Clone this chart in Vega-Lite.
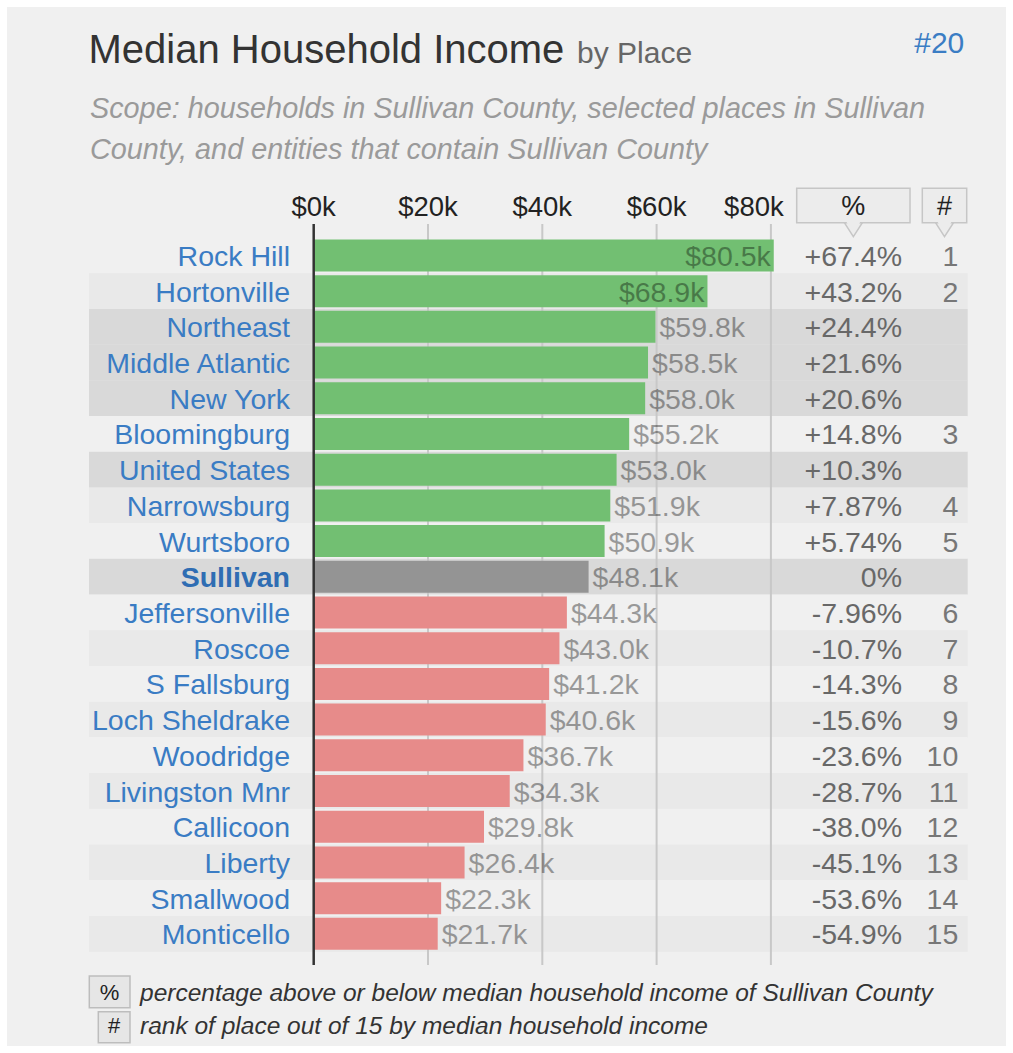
{
  "$schema": "https://vega.github.io/schema/vega-lite/v6.json",
  "width": 1013,
  "height": 1053,
  "autosize": {"type": "none"},
  "padding": 0,
  "background": "white",
  "config": {
    "view": {"fill": "#f0f0f0", "stroke": "white", "strokeWidth": 14},
    "axis": {"disable": true},
    "text": {"font": "Liberation Sans"},
    "locale": {"number": {"decimal": ".", "thousands": ",", "grouping": [3], "currency": ["$", ""], "minus": "-"}}
  },
  "datasets": {
    "rows": [
      {"place": "Rock Hill", "income": 80500, "pct": 0.674, "rank": 1, "type": "place"},
      {"place": "Hortonville", "income": 68900, "pct": 0.432, "rank": 2, "type": "place"},
      {"place": "Northeast", "income": 59800, "pct": 0.244, "rank": null, "type": "region"},
      {"place": "Middle Atlantic", "income": 58500, "pct": 0.216, "rank": null, "type": "region"},
      {"place": "New York", "income": 58000, "pct": 0.206, "rank": null, "type": "region"},
      {"place": "Bloomingburg", "income": 55200, "pct": 0.148, "rank": 3, "type": "place"},
      {"place": "United States", "income": 53000, "pct": 0.103, "rank": null, "type": "region"},
      {"place": "Narrowsburg", "income": 51900, "pct": 0.0787, "rank": 4, "type": "place"},
      {"place": "Wurtsboro", "income": 50900, "pct": 0.0574, "rank": 5, "type": "place"},
      {"place": "Sullivan", "income": 48100, "pct": 0, "rank": null, "type": "county"},
      {"place": "Jeffersonville", "income": 44300, "pct": -0.0796, "rank": 6, "type": "place"},
      {"place": "Roscoe", "income": 43000, "pct": -0.107, "rank": 7, "type": "place"},
      {"place": "S Fallsburg", "income": 41200, "pct": -0.143, "rank": 8, "type": "place"},
      {"place": "Loch Sheldrake", "income": 40600, "pct": -0.156, "rank": 9, "type": "place"},
      {"place": "Woodridge", "income": 36700, "pct": -0.236, "rank": 10, "type": "place"},
      {"place": "Livingston Mnr", "income": 34300, "pct": -0.287, "rank": 11, "type": "place"},
      {"place": "Callicoon", "income": 29800, "pct": -0.380, "rank": 12, "type": "place"},
      {"place": "Liberty", "income": 26400, "pct": -0.451, "rank": 13, "type": "place"},
      {"place": "Smallwood", "income": 22300, "pct": -0.536, "rank": 14, "type": "place"},
      {"place": "Monticello", "income": 21700, "pct": -0.549, "rank": 15, "type": "place"}
    ],
    "ticks": [
      {"v": 0, "label": "$0k"},
      {"v": 20000, "label": "$20k"},
      {"v": 40000, "label": "$40k"},
      {"v": 60000, "label": "$60k"},
      {"v": 80000, "label": "$80k"}
    ]
  },
  "layer": [
    {
      "data": {"name": "rows"},
      "transform": [
        {"window": [{"op": "row_number", "as": "r"}]},
        {"calculate": "datum.type == 'region' ? 'region' : 'local'", "as": "grp"},
        {"window": [{"op": "row_number", "as": "k"}], "groupby": ["grp"]}
      ],
      "mark": {"type": "bar", "orient": "horizontal", "size": 35.9},
      "encoding": {
        "y": {"field": "r", "type": "quantitative", "axis": null,
              "scale": {"domain": [-6.1545, 23.3372], "reverse": true, "nice": false, "zero": false, "padding": 0}},
        "x": {"datum": -39318, "type": "quantitative", "axis": null,
              "scale": {"domain": [-54891, 122362], "nice": false, "zero": false, "padding": 0}},
        "x2": {"datum": 114436},
        "color": {
          "condition": [
            {"test": "datum.type != 'place'", "value": "#d9d9d9"},
            {"test": "datum.k % 2 == 0", "value": "#e9e9e9"}
          ],
          "value": "#f0f0f0"
        }
      }
    },
    {
      "data": {"name": "ticks"},
      "transform": [{"filter": "datum.v > 0"}],
      "mark": {"type": "rule", "color": "#c8c8c8", "strokeWidth": 2},
      "encoding": {
        "x": {"field": "v", "type": "quantitative", "axis": null},
        "y": {"datum": 0.1192, "type": "quantitative", "axis": null},
        "y2": {"datum": 20.873}
      }
    },
    {
      "data": {"name": "rows"},
      "transform": [
        {"window": [{"op": "row_number", "as": "r"}]}
      ],
      "layer": [
        {
          "mark": {"type": "bar", "orient": "horizontal", "size": 32},
          "encoding": {
            "y": {"field": "r", "type": "quantitative", "axis": null},
            "x": {"field": "income", "type": "quantitative", "axis": null},
            "x2": {"datum": 0},
            "color": {
              "condition": [
                {"test": "datum.pct > 0", "value": "#72bf72"},
                {"test": "datum.pct < 0", "value": "#e78b8a"}
              ],
              "value": "#949494"
            }
          }
        },
        {
          "transform": [{"filter": "datum.type != 'county'"}],
          "mark": {"type": "text", "align": "right", "baseline": "alphabetic", "dy": 10.5, "fontSize": 28.5, "color": "#3a7cc4"},
          "encoding": {
            "y": {"field": "r", "type": "quantitative", "axis": null},
            "x": {"datum": -4147, "type": "quantitative", "axis": null},
            "text": {"field": "place"}
          }
        },
        {
          "transform": [{"filter": "datum.type == 'county'"}],
          "mark": {"type": "text", "align": "right", "baseline": "alphabetic", "dy": 10.5, "fontSize": 28.5, "fontWeight": "bold", "color": "#2f6db3"},
          "encoding": {
            "y": {"field": "r", "type": "quantitative", "axis": null},
            "x": {"datum": -4147, "type": "quantitative", "axis": null},
            "text": {"field": "place"}
          }
        },
        {
          "transform": [{"filter": "datum.income <= 65000"}],
          "mark": {"type": "text", "align": "left", "baseline": "alphabetic", "dx": 4, "dy": 10.5, "fontSize": 28.5, "color": "black", "opacity": 0.36},
          "encoding": {
            "y": {"field": "r", "type": "quantitative", "axis": null},
            "x": {"field": "income", "type": "quantitative", "axis": null},
            "text": {"field": "income", "type": "quantitative", "format": "$.3s"}
          }
        },
        {
          "transform": [{"filter": "datum.income > 65000"}],
          "mark": {"type": "text", "align": "right", "baseline": "alphabetic", "dx": -3, "dy": 10.5, "fontSize": 28.5, "color": "black", "opacity": 0.36},
          "encoding": {
            "y": {"field": "r", "type": "quantitative", "axis": null},
            "x": {"field": "income", "type": "quantitative", "axis": null},
            "text": {"field": "income", "type": "quantitative", "format": "$.3s"}
          }
        },
        {
          "mark": {"type": "text", "align": "right", "baseline": "alphabetic", "dy": 10.5, "fontSize": 28.5, "color": "#686868"},
          "encoding": {
            "y": {"field": "r", "type": "quantitative", "axis": null},
            "x": {"datum": 102940, "type": "quantitative", "axis": null},
            "text": {"condition": {"test": "datum.pct == 0", "value": "0%"}, "field": "pct", "type": "quantitative", "format": "+.3p"}
          }
        },
        {
          "transform": [{"filter": "isValid(datum.rank)"}],
          "mark": {"type": "text", "align": "right", "baseline": "alphabetic", "dy": 10.5, "fontSize": 28.5, "color": "#777777"},
          "encoding": {
            "y": {"field": "r", "type": "quantitative", "axis": null},
            "x": {"datum": 112790, "type": "quantitative", "axis": null},
            "text": {"field": "rank", "type": "quantitative"}
          }
        }
      ]
    },
    {
      "data": {"values": [{}]},
      "mark": {"type": "rule", "color": "#333333", "strokeWidth": 2.5},
      "encoding": {
        "x": {"datum": 0, "type": "quantitative", "axis": null},
        "y": {"datum": 0.1192, "type": "quantitative", "axis": null},
        "y2": {"datum": 20.873}
      }
    },
    {
      "data": {"name": "ticks"},
      "transform": [{"filter": "datum.v < 80000"}],
      "mark": {"type": "text", "align": "center", "baseline": "alphabetic", "fontSize": 27.5, "color": "#222222"},
      "encoding": {
        "x": {"field": "v", "type": "quantitative", "axis": null},
        "y": {"datum": -0.1049, "type": "quantitative", "axis": null},
        "text": {"field": "label"}
      }
    },
    {
      "data": {"name": "ticks"},
      "transform": [{"filter": "datum.v == 80000"}],
      "mark": {"type": "text", "align": "center", "baseline": "alphabetic", "dx": -17, "fontSize": 27.5, "color": "#222222"},
      "encoding": {
        "x": {"field": "v", "type": "quantitative", "axis": null},
        "y": {"datum": -0.1049, "type": "quantitative", "axis": null},
        "text": {"field": "label"}
      }
    },
    {
      "data": {"values": [{}]},
      "layer": [
        {
          "mark": {"type": "text", "align": "left", "baseline": "alphabetic", "fontSize": 40, "color": "#333333"},
          "encoding": {
            "x": {"datum": -39405, "type": "quantitative", "axis": null},
            "y": {"datum": -4.3984, "type": "quantitative", "axis": null},
            "text": {"value": "Median Household Income"}
          }
        },
        {
          "mark": {"type": "text", "align": "left", "baseline": "alphabetic", "fontSize": 30, "color": "#666666"},
          "encoding": {
            "x": {"datum": 46072, "type": "quantitative", "axis": null},
            "y": {"datum": -4.3984, "type": "quantitative", "axis": null},
            "text": {"value": "by Place"}
          }
        },
        {
          "mark": {"type": "text", "align": "right", "baseline": "alphabetic", "fontSize": 30, "color": "#3b7dc4"},
          "encoding": {
            "x": {"datum": 113840, "type": "quantitative", "axis": null},
            "y": {"datum": -4.6617, "type": "quantitative", "axis": null},
            "text": {"value": "#20"}
          }
        },
        {
          "mark": {"type": "text", "align": "left", "baseline": "alphabetic", "fontSize": 28.8, "fontStyle": "italic", "color": "#9a9a9a"},
          "encoding": {
            "x": {"datum": -39143, "type": "quantitative", "axis": null},
            "y": {"datum": -2.8412, "type": "quantitative", "axis": null},
            "text": {"value": "Scope: households in Sullivan County, selected places in Sullivan"}
          }
        },
        {
          "mark": {"type": "text", "align": "left", "baseline": "alphabetic", "fontSize": 28.8, "fontStyle": "italic", "color": "#9a9a9a"},
          "encoding": {
            "x": {"datum": -39143, "type": "quantitative", "axis": null},
            "y": {"datum": -1.6929, "type": "quantitative", "axis": null},
            "text": {"value": "County, and entities that contain Sullivan County"}
          }
        },
        {
          "mark": {"type": "rect", "fill": "#ececec", "stroke": "#c6c6c6", "strokeWidth": 1.5},
          "encoding": {
            "x": {"datum": 84514, "type": "quantitative", "axis": null},
            "x2": {"datum": 104339},
            "y": {"datum": -0.8807, "type": "quantitative", "axis": null},
            "y2": {"datum": 0.0828}
          }
        },
        {
          "mark": {"type": "rect", "fill": "#ececec", "stroke": "#c6c6c6", "strokeWidth": 1.5},
          "encoding": {
            "x": {"datum": 106492, "type": "quantitative", "axis": null},
            "x2": {"datum": 114261},
            "y": {"datum": -0.8807, "type": "quantitative", "axis": null},
            "y2": {"datum": 0.0828}
          }
        },
        {
          "mark": {"type": "point", "shape": "M-1,0L0,1.556L1,0Z", "size": 324, "filled": true, "fill": "#ececec", "stroke": "#c6c6c6", "strokeWidth": 1.5, "opacity": 1},
          "encoding": {
            "x": {"datum": 94427, "type": "quantitative", "axis": null},
            "y": {"datum": 0.0828, "type": "quantitative", "axis": null}
          }
        },
        {
          "mark": {"type": "point", "shape": "M-1,0L0,1.556L1,0Z", "size": 324, "filled": true, "fill": "#ececec", "stroke": "#c6c6c6", "strokeWidth": 1.5, "opacity": 1},
          "encoding": {
            "x": {"datum": 110376, "type": "quantitative", "axis": null},
            "y": {"datum": 0.0828, "type": "quantitative", "axis": null}
          }
        },
        {
          "mark": {"type": "point", "shape": "M-0.85,-0.25L0,1.25L0.85,-0.25Z", "size": 324, "filled": true, "fill": "#ececec", "strokeWidth": 0, "opacity": 1},
          "encoding": {
            "x": {"datum": 94427, "type": "quantitative", "axis": null},
            "y": {"datum": 0.0828, "type": "quantitative", "axis": null}
          }
        },
        {
          "mark": {"type": "point", "shape": "M-0.85,-0.25L0,1.25L0.85,-0.25Z", "size": 324, "filled": true, "fill": "#ececec", "strokeWidth": 0, "opacity": 1},
          "encoding": {
            "x": {"datum": 110376, "type": "quantitative", "axis": null},
            "y": {"datum": 0.0828, "type": "quantitative", "axis": null}
          }
        },
        {
          "mark": {"type": "text", "align": "center", "baseline": "alphabetic", "fontSize": 27, "color": "#222222"},
          "encoding": {
            "x": {"datum": 94427, "type": "quantitative", "axis": null},
            "y": {"datum": -0.1329, "type": "quantitative", "axis": null},
            "text": {"value": "%"}
          }
        },
        {
          "mark": {"type": "text", "align": "center", "baseline": "alphabetic", "fontSize": 27, "color": "#222222"},
          "encoding": {
            "x": {"datum": 110376, "type": "quantitative", "axis": null},
            "y": {"datum": -0.1329, "type": "quantitative", "axis": null},
            "text": {"value": "#"}
          }
        },
        {
          "mark": {"type": "rect", "fill": "#e6e6e6", "stroke": "#bdbdbd", "strokeWidth": 1.5},
          "encoding": {
            "x": {"datum": -39265, "type": "quantitative", "axis": null},
            "x2": {"datum": -32143},
            "y": {"datum": 21.181, "type": "quantitative", "axis": null},
            "y2": {"datum": 22.069}
          }
        },
        {
          "mark": {"type": "rect", "fill": "#e6e6e6", "stroke": "#bdbdbd", "strokeWidth": 1.5},
          "encoding": {
            "x": {"datum": -37690, "type": "quantitative", "axis": null},
            "x2": {"datum": -32143},
            "y": {"datum": 22.181, "type": "quantitative", "axis": null},
            "y2": {"datum": 23.049}
          }
        },
        {
          "mark": {"type": "text", "align": "center", "baseline": "alphabetic", "fontSize": 22, "color": "#222222"},
          "encoding": {
            "x": {"datum": -35704, "type": "quantitative", "axis": null},
            "y": {"datum": 21.853, "type": "quantitative", "axis": null},
            "text": {"value": "%"}
          }
        },
        {
          "mark": {"type": "text", "align": "center", "baseline": "alphabetic", "fontSize": 22, "color": "#222222"},
          "encoding": {
            "x": {"datum": -34917, "type": "quantitative", "axis": null},
            "y": {"datum": 22.778, "type": "quantitative", "axis": null},
            "text": {"value": "#"}
          }
        },
        {
          "mark": {"type": "text", "align": "left", "baseline": "alphabetic", "fontSize": 24.5, "fontStyle": "italic", "color": "#333333"},
          "encoding": {
            "x": {"datum": -30394, "type": "quantitative", "axis": null},
            "y": {"datum": 21.881, "type": "quantitative", "axis": null},
            "text": {"value": "percentage above or below median household income of Sullivan County"}
          }
        },
        {
          "mark": {"type": "text", "align": "left", "baseline": "alphabetic", "fontSize": 24.5, "fontStyle": "italic", "color": "#333333"},
          "encoding": {
            "x": {"datum": -30394, "type": "quantitative", "axis": null},
            "y": {"datum": 22.806, "type": "quantitative", "axis": null},
            "text": {"value": "rank of place out of 15 by median household income"}
          }
        }
      ]
    }
  ]
}
